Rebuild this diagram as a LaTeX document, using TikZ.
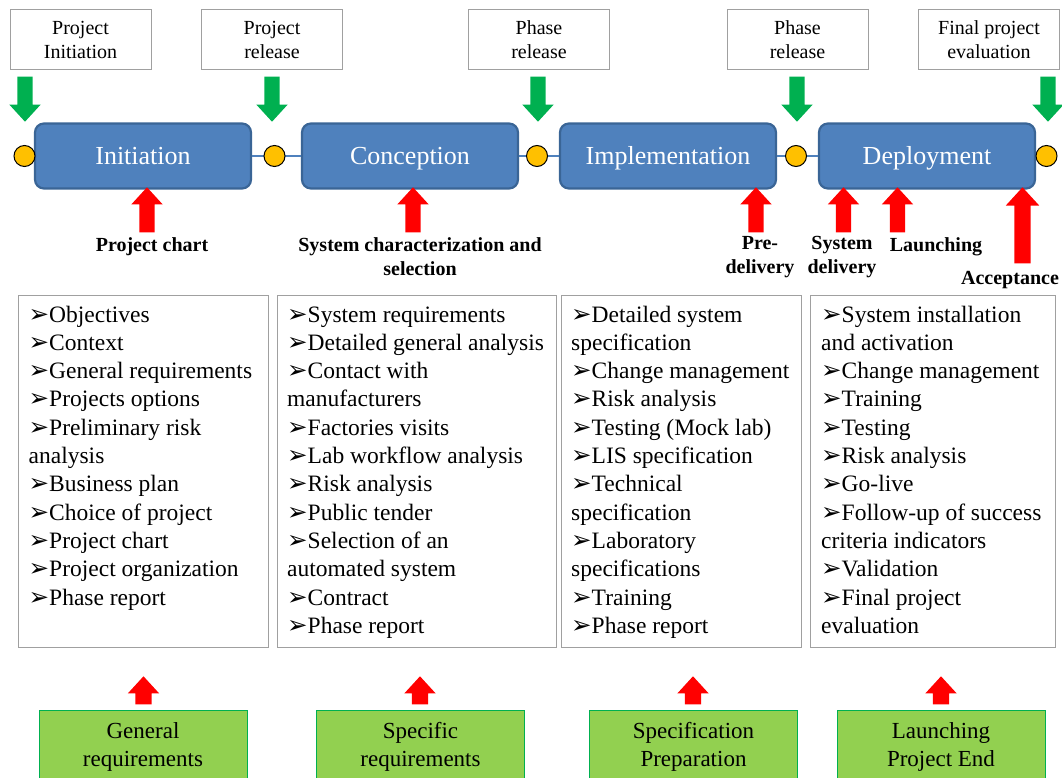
\documentclass[tikz,border=0pt]{standalone}
\usepackage{fontspec}
\setmainfont{Liberation Serif}
\newfontfamily\dingfont{DejaVu Sans}
\usetikzlibrary{shapes.arrows,positioning}
\definecolor{phase}{HTML}{4F81BD}
\definecolor{phaseedge}{HTML}{3A6596}
\definecolor{mile}{HTML}{FFC000}
\definecolor{gate}{HTML}{00B050}
\definecolor{deliv}{HTML}{FF0000}
\definecolor{input}{HTML}{92D050}
\definecolor{inputedge}{HTML}{00B050}
\definecolor{framegray}{HTML}{A0A0A0}
\tikzset{
  every node/.style={text=black},
  phasebox/.style={draw=phaseedge,line width=2.2pt,fill=phase,rounded corners=9pt,minimum width=216pt,minimum height=65pt,text height=24pt,text depth=6pt,text=white,font=\fontsize{26}{30}\selectfont},
  gatebox/.style={draw=framegray,line width=1pt,fill=white,minimum width=141pt,minimum height=60pt,align=center,inner sep=0pt,font=\fontsize{20}{24}\selectfont},
  milestone/.style={circle,draw=black,line width=1pt,fill=mile,minimum size=21pt,inner sep=0pt},
  link/.style={draw=phase,line width=2.5pt},
  gatearrow/.style={single arrow,draw=none,fill=gate,inner sep=7.5pt,single arrow head extend=8pt,single arrow tip angle=85,minimum height=45pt,shape border rotate=270,anchor=tip},
  delivarrow/.style={gatearrow,fill=deliv,shape border rotate=90},
  inputarrow/.style={delivarrow,minimum height=28pt,inner sep=8pt,single arrow head extend=7.5pt},
  deliverable/.style={align=center,inner sep=0pt,font=\fontsize{20}{24}\selectfont\bfseries},
  listbox/.style={draw=framegray,line width=1pt,minimum height=352pt,anchor=north west,inner sep=0pt},
  listtext/.style={anchor=north west,align=left,inner sep=0pt,font=\fontsize{23.5}{28.3}\selectfont},
  inputbox/.style={draw=inputedge,line width=1pt,fill=input,minimum width=208pt,minimum height=72pt,anchor=north,align=center,inner sep=0pt,font=\fontsize{23}{28}\selectfont},
}
\newcommand{\itm}{\strut{\dingfont\fontsize{24.5}{0}\selectfont ➢}}

\begin{document}
\begin{tikzpicture}[x=1pt,y=-1pt]
\useasboundingbox (0,0) rectangle (1062,778);

% gates
\node[gatebox] (g0) at (80.5,40) {Project\\Initiation};
\node[gatebox] (g1) at (272,40) {Project\\release};
\node[gatebox] (g2) at (539,40) {Phase\\release};
\node[gatebox] (g3) at (797.5,40) {Phase\\release};
\node[gatebox] (g4) at (989,40) {Final project\\evaluation};

% phases
\node[phasebox] (ini) at (143,156) {Initiation};
\node[phasebox] (con) at (410,156) {Conception};
\node[phasebox] (imp) at (668,156) {Implementation};
\node[phasebox] (dep) at (927,156) {Deployment};

\draw[link] (ini.east) -- (con.west);
\draw[link] (con.east) -- (imp.west);
\draw[link] (imp.east) -- (dep.west);

\node[milestone] (m0) at (24.5,156) {};
\node[milestone] (m1) at (274.5,156) {};
\node[milestone] (m2) at (537,156) {};
\node[milestone] (m3) at (796,156) {};
\node[milestone] (m4) at (1046.5,156) {};

\node[gatearrow] (ga0) at (25,122) {};
\node[gatearrow] (ga1) at (272,122) {};
\node[gatearrow] (ga2) at (538,122) {};
\node[gatearrow] (ga3) at (797,122) {};
\node[gatearrow] (ga4) at (1048,122) {};

% deliverables
\node[delivarrow] (da0) at (147,187) {};
\node[delivarrow] (da1) at (413,187) {};
\node[delivarrow] (da2) at (756,187) {};
\node[delivarrow] (da3) at (843.5,187) {};
\node[delivarrow] (da4) at (897.5,187) {};
\node[delivarrow,minimum height=76pt,inner sep=8pt,single arrow head extend=8.5pt] (da5) at (1022.5,187) {};

\node[deliverable] (d0) at (152,247) {Project chart};
\node[deliverable] (d1) at (420,257) {System characterization and\\selection};
\node[deliverable] (d2) at (760,257) {Pre-\\delivery};
\node[deliverable] (d3) at (842,257) {System\\delivery};
\node[deliverable] (d4) at (936,247) {Launching};
\node[deliverable] (d5) at (1010,280) {Acceptance};

% task lists
\node[listbox,minimum width=250pt] (l0) at (18,295) {};
\node[listbox,minimum width=279pt] (l1) at (277,295) {};
\node[listbox,minimum width=240pt] (l2) at (561,295) {};
\node[listbox,minimum width=245pt] (l3) at (810,295) {};

\node[listtext] (t0) at (28.5,302) {\itm Objectives\\\itm Context\\\itm General requirements\\\itm Projects options\\\itm Preliminary risk\\analysis\\\itm Business plan\\\itm Choice of project\\\itm Project chart\\\itm Project organization\\\itm Phase report};
\node[listtext] (t1) at (287,302) {\itm System requirements\\\itm Detailed general analysis\\\itm Contact with\\manufacturers\\\itm Factories visits\\\itm Lab workflow analysis\\\itm Risk analysis\\\itm Public tender\\\itm Selection of an\\automated system\\\itm Contract\\\itm Phase report};
\node[listtext] (t2) at (571,302) {\itm Detailed system\\specification\\\itm Change management\\\itm Risk analysis\\\itm Testing (Mock lab)\\\itm LIS specification\\\itm Technical\\specification\\\itm Laboratory\\specifications\\\itm Training\\\itm Phase report};
\node[listtext] (t3) at (821,302) {\itm System installation\\and activation\\\itm Change management\\\itm Training\\\itm Testing\\\itm Risk analysis\\\itm Go-live\\\itm Follow-up of success\\criteria indicators\\\itm Validation\\\itm Final project\\evaluation};

% inputs
\node[inputarrow] (ia0) at (143.5,676) {};
\node[inputarrow] (ia1) at (420,676) {};
\node[inputarrow] (ia2) at (693,676) {};
\node[inputarrow] (ia3) at (941,676) {};

\node[inputbox] (i0) at (143,710) {General\\requirements};
\node[inputbox] (i1) at (420.5,710) {Specific\\requirements};
\node[inputbox] (i2) at (693.5,710) {Specification\\Preparation};
\node[inputbox] (i3) at (941,710) {Launching\\Project End};

\end{tikzpicture}
\end{document}
